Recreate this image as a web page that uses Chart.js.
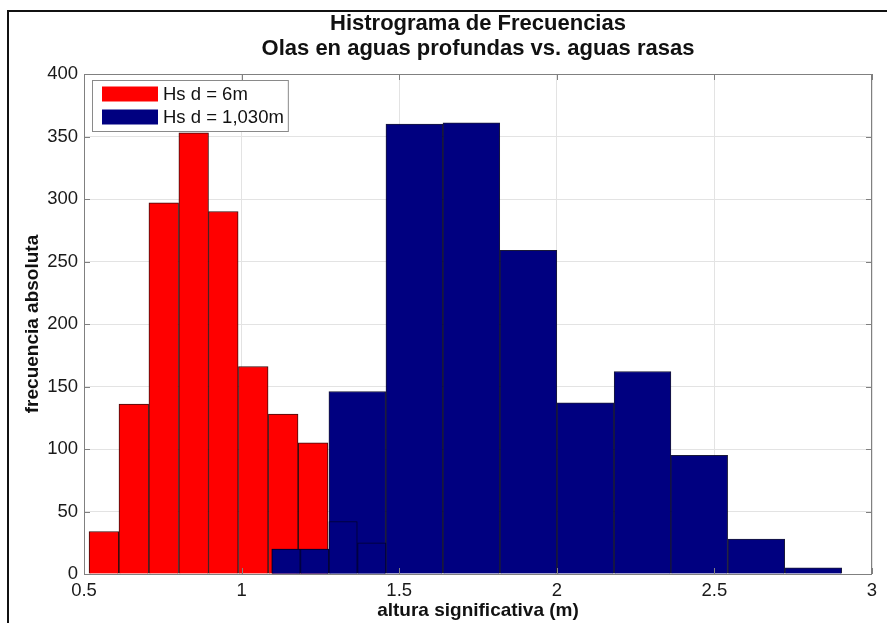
<!DOCTYPE html>
<html>
<head>
<meta charset="utf-8">
<title>Histrograma de Frecuencias</title>
<script src="https://cdn.jsdelivr.net/npm/chart.js@4.4.1/dist/chart.umd.min.js"></script>
<style>
  html, body { margin: 0; padding: 0; background: #fff; }
  #wrap { position: relative; width: 887px; height: 623px; overflow: hidden; }
  #frame {
    position: absolute; left: 7px; top: 10px; right: -4px; bottom: -4px;
    border-left: 2px solid #111; border-top: 2px solid #111;
  }
  #hist { position: absolute; left: 0; top: 0; }
</style>
</head>
<body>
<div id="wrap">
  <div id="frame"></div>
  <canvas id="hist" width="887" height="623"></canvas>
</div>
<script>
  const titleLines = ["Histrograma de Frecuencias", "Olas en aguas profundas vs. aguas rasas"];
  const xLabel = "altura significativa (m)";
  const yLabel = "frecuencia absoluta";
  const xTicks = [0.5, 1, 1.5, 2, 2.5, 3];
  const yTicks = [0, 50, 100, 150, 200, 250, 300, 350, 400];

  // Hs d = 6m (bin centres, counts)
  const shallowLabel = "Hs d = 6m";
  const shallowCenters = [0.563, 0.658, 0.753, 0.848, 0.942, 1.037, 1.132, 1.227];
  const shallowCounts = [34, 136, 297, 353, 290, 166, 128, 105];

  // Hs d = 1,030m (bin centres, counts)
  const deepLabel = "Hs d = 1,030m";
  const deepCenters = [1.186, 1.367, 1.548, 1.729, 1.910, 2.091, 2.272, 2.452, 2.633, 2.814];
  const deepCounts = [20, 146, 360, 361, 259, 137, 162, 95, 28, 5];

  // finer bins at the low end of the deep-water record
  const deepFineCenters = [1.141, 1.232, 1.322, 1.413];
  const deepFineCounts = [20, 20, 42, 25];

  const RED = "#ff0000";
  const NAVY = "#000080";
  const FONT = "'Liberation Sans', Arial, sans-serif";

  Chart.defaults.font.family = FONT;
  Chart.defaults.color = "#1a1a1a";

  const toPoints = (xs, ys) => xs.map((x, i) => ({ x, y: ys[i] }));

  // hidden copies of the x axis so each histogram gets its own bin width
  const hiddenX = {
    type: "linear", min: 0.5, max: 3, offset: false, display: false,
    grid: { offset: false }
  };

  /* ---------------------------------------------------
      plot box, inner ticks and boxed legend
  ---------------------------------------------------- */
  const plotBox = {
    id: "plotBox",
    afterDatasetsDraw(chart) {
      const { ctx, chartArea: a, scales } = chart;
      ctx.save();
      ctx.strokeStyle = "#808080";
      ctx.lineWidth = 1;
      ctx.strokeRect(a.left + 0.5, a.top + 0.5, a.right - a.left - 1, a.bottom - a.top);

      const tl = 6;
      ctx.beginPath();
      yTicks.forEach(v => {
        const y = Math.round(scales.y.getPixelForValue(v)) + 0.5;
        ctx.moveTo(a.left, y); ctx.lineTo(a.left + tl, y);
        ctx.moveTo(a.right, y); ctx.lineTo(a.right - tl, y);
      });
      xTicks.forEach(v => {
        const x = Math.round(scales.x.getPixelForValue(v)) + 0.5;
        ctx.moveTo(x, a.bottom); ctx.lineTo(x, a.bottom - tl);
        ctx.moveTo(x, a.top); ctx.lineTo(x, a.top + tl);
      });
      ctx.stroke();

      // legend in the upper-left corner
      const items = chart.data.datasets.filter(d => d.label);
      ctx.font = "18.5px " + FONT;
      const textW = Math.max(...items.map(d => ctx.measureText(d.label).width));
      const x0 = a.left + 8, y0 = a.top + 6;
      const rowH = 23, sw = 56, sh = 15;
      const w = 71 + textW + 4, h = items.length * rowH + 5;
      ctx.fillStyle = "#fff";
      ctx.fillRect(x0, y0, w, h);
      ctx.strokeStyle = "#8a8a8a";
      ctx.strokeRect(x0 + 0.5, y0 + 0.5, w, h);
      items.forEach((d, i) => {
        const cy = y0 + 14 + i * rowH;
        ctx.fillStyle = d.backgroundColor;
        ctx.fillRect(x0 + 10, cy - sh / 2, sw, sh);
        ctx.fillStyle = "#111";
        ctx.textBaseline = "middle";
        ctx.textAlign = "left";
        ctx.fillText(d.label, x0 + 71, cy + 1);
      });
      ctx.restore();
    }
  };

  new Chart(document.getElementById("hist"), {
    type: "bar",
    data: {
      datasets: [
        {
          label: shallowLabel,
          data: toPoints(shallowCenters, shallowCounts),
          xAxisID: "x",
          backgroundColor: RED,
          borderColor: "rgba(50,0,0,0.95)",
          borderWidth: 1,
          order: 3
        },
        {
          label: deepLabel,
          data: toPoints(deepCenters, deepCounts),
          xAxisID: "xb",
          backgroundColor: NAVY,
          borderColor: "rgba(0,0,35,0.9)",
          borderWidth: 1,
          order: 2
        },
        {
          data: toPoints(deepFineCenters, deepFineCounts),
          xAxisID: "xf",
          backgroundColor: NAVY,
          borderColor: "rgba(0,0,35,0.9)",
          borderWidth: 1,
          order: 1
        }
      ]
    },
    options: {
      responsive: false,
      animation: false,
      grouped: false,
      categoryPercentage: 1,
      barPercentage: 1,
      layout: { padding: { left: 0, right: 15, top: 0, bottom: 0 } },
      plugins: {
        legend: { display: false },
        tooltip: { enabled: false },
        title: {
          display: true,
          text: titleLines,
          fullSize: false,
          color: "#111",
          font: { size: 22, weight: "bold", lineHeight: "25px" },
          padding: { top: 11, bottom: 13 }
        }
      },
      scales: {
        x: {
          type: "linear", min: 0.5, max: 3, offset: false,
          afterBuildTicks: s => { s.ticks = xTicks.map(v => ({ value: v })); },
          afterFit: s => { s.height = 49; },
          ticks: { font: { size: 18.5 }, padding: 6, maxRotation: 0, autoSkip: false, callback: v => String(v) },
          grid: { color: "#e3e3e3", drawTicks: false, offset: false },
          border: { display: false },
          title: {
            display: true, text: xLabel, color: "#111",
            font: { size: 19, weight: "bold" }, padding: { top: 0, bottom: 1 }
          }
        },
        xb: hiddenX,
        xf: { ...hiddenX },
        y: {
          min: 0, max: 400,
          afterBuildTicks: s => { s.ticks = yTicks.map(v => ({ value: v })); },
          afterFit: s => { s.width = 84; },
          ticks: { font: { size: 18.5 }, padding: 6 },
          grid: { color: "#e3e3e3", drawTicks: false },
          border: { display: false },
          title: {
            display: true, text: yLabel, color: "#111",
            font: { size: 19, weight: "bold" }, padding: { top: 21, bottom: 0 }
          }
        }
      }
    },
    plugins: [plotBox]
  });
</script>
</body>
</html>
